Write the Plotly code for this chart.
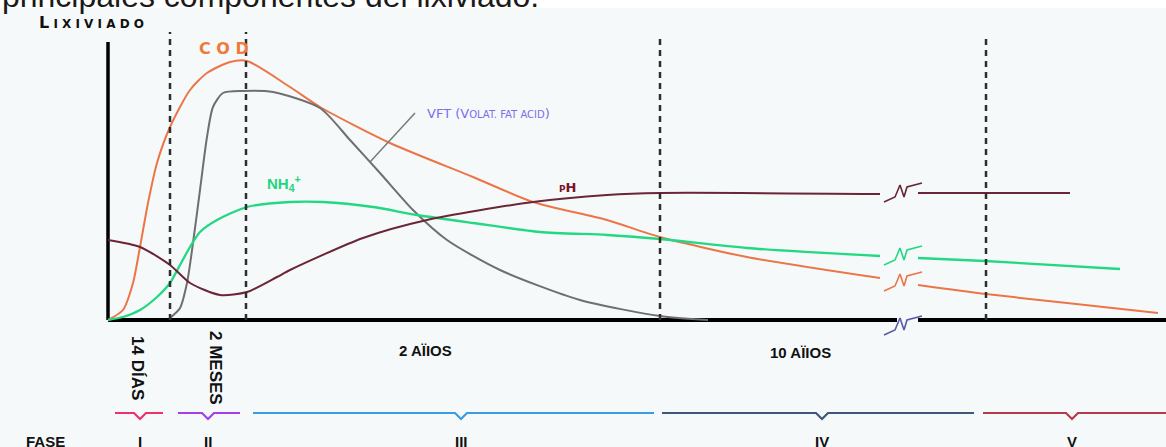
import plotly.graph_objects as go

# ---------------- data (schematic units: t = time axis, c = leachate concentration) -------------
cod_t = [0, 15, 25, 32, 40, 49, 62, 82, 99, 122, 139, 182, 212, 282, 365, 425, 499, 552, 639, 772]
cod_c = [0, 10, 37, 73, 117, 157, 193, 230, 247, 258, 259, 233, 213, 177, 143, 118, 100, 83, 63, 42]
cod_t2 = [810, 878, 959, 1050]
cod_c2 = [35, 26, 17, 7]

vft_t = [62, 72, 79, 85, 92, 99, 105, 115, 135, 165, 212, 242, 272, 305, 339, 392, 472, 552, 600]
vft_c = [2, 12, 37, 77, 130, 183, 213, 227, 229, 228, 212, 180, 147, 110, 80, 50, 20, 4, 0]

nh4_t = [0, 15, 32, 49, 62, 72, 82, 92, 109, 139, 182, 215, 265, 309, 365, 432, 499, 552, 639, 772]
nh4_c = [0, 3, 10, 23, 37, 55, 73, 88, 100, 113, 118, 118, 113, 105, 97, 88, 85, 81, 72, 64]
nh4_t2 = [810, 877, 1012]
nh4_c2 = [62, 59, 51]

ph_t = [0, 32, 62, 82, 112, 139, 169, 182, 255, 319, 425, 499, 552, 772]
ph_c = [80, 73, 55, 37, 25, 28, 43, 50, 82, 100, 118, 125, 127, 126]
ph_t2 = [810, 962]
ph_c2 = [127, 127]

phase_bounds = [62, 138, 552, 878]
phase_names = ["I", "II", "III", "IV", "V"]
phase_start = [7, 70, 145, 554, 875]
phase_end = [55, 132, 546, 866, 1058]
phase_mid = [32, 100, 353, 714, 964]
time_labels = ["14 DÍAS", "2 MESES", "2 AÏIOS", "10 AÏIOS"]

# ---------------- styling ----------------
C_COD = "#EC7548"
C_VFT = "#6F6F6F"
C_NH4 = "#22D882"
C_PH = "#6A2636"
phase_colors = ["#F0306A", "#A23EEA", "#3A9BE2", "#3D5878", "#B23C4C"]
X_MIN, X_MAX = -108, 1058
Y_MIN, Y_MAX = -127, 320
BREAK_T = 795
BOLD = "Liberation Sans, Arial, sans-serif"

fig = go.Figure()


def line(x, y, color, width=2, dash=None, shape="spline"):
    fig.add_trace(go.Scatter(x=x, y=y, mode="lines", cliponaxis=False, hoverinfo="skip",
                             line=dict(color=color, width=width, dash=dash, shape=shape,
                                       smoothing=0.7 if shape == "spline" else None),
                             showlegend=False))


# light background of the figure picture (page is white above it)
fig.add_shape(type="rect", x0=X_MIN, x1=X_MAX, y0=Y_MIN, y1=312, xref="x", yref="y",
              line=dict(width=0), fillcolor="#F6F9FA", layer="below")

# axes
line([0, 0], [0, 278], "#000000", 3.5, shape="linear")
line([0, BREAK_T - 6], [0, 0], "#000000", 4, shape="linear")
line([BREAK_T + 15, X_MAX], [0, 0], "#000000", 4, shape="linear")

# curves
line(cod_t, cod_c, C_COD)
line(cod_t2, cod_c2, C_COD)
line(vft_t, vft_c, C_VFT)
line(nh4_t, nh4_c, C_NH4, 2.3)
line(nh4_t2, nh4_c2, C_NH4, 2.3)
line(ph_t, ph_c, C_PH)
line(ph_t2, ph_c2, C_PH)

# axis-break marks
zx = [-19, -8, -3, 1, 4, 19]
zy = [-9, -4, 8, -4, 6, 10]
for cy, col in [(127, C_PH), (64, C_NH4), (38, C_COD), (-6, "#5A5AA8")]:
    line([BREAK_T + d for d in zx], [cy + d for d in zy], col, 1.6, shape="linear")

# VFT call-out
line([262, 307], [158, 207], "#7A7A7A", 1.5, shape="linear")

# phase dashed boundaries
for i, b in enumerate(phase_bounds):
    top = 288 if i < 2 else 282
    fig.add_shape(type="line", x0=b, x1=b, y0=0, y1=top, xref="x", yref="y",
                  line=dict(color="#2E2E2E", width=2.5, dash="6px,5px"))

# phase brackets
for s, e, m, col in zip(phase_start, phase_end, phase_mid, phase_colors):
    line([s, m - 6, m, m + 6, e], [-93, -93, -99, -93, -93], col, 2.2, shape="linear")


def ann(text, x, y, size, color="#111111", angle=0, xanchor="center", family=BOLD):
    fig.add_annotation(x=x, y=y, xref="x", yref="y", text=text, showarrow=False,
                       textangle=angle, xanchor=xanchor, yanchor="middle",
                       font=dict(size=size, color=color, family=family))


# heading of the page (only its lower part is visible in the reference)
fig.add_annotation(x=0, y=1.0, xref="paper", yref="paper", text="principales componentes del lixiviado.",
                   showarrow=False, xanchor="left", yanchor="middle", yshift=4,
                   font=dict(size=32, color="#1a1a1a", family="Liberation Sans, Arial, sans-serif"))

ann("<b>L<span style='font-size:12px'> I X I V I A D O</span></b>", -71, 298, 16,
    xanchor="left", family="DejaVu Sans, sans-serif")
ann("<b>C O D</b>", 116, 272, 16, "#F07A3A", family="DejaVu Sans, sans-serif")
ann("VFT (V<span style='font-size:10px'>OLAT. FAT ACID</span>)", 317, 207, 13, "#7A6EEA",
    xanchor="left", family="DejaVu Sans, sans-serif")
ann("<b>NH<sub>4</sub><sup>+</sup></b>", 157, 137, 15, "#22D47E", xanchor="left")
ann("<b><span style='font-size:9px'>P</span>H</b>", 460, 133, 13, "#7A1525",
    family="DejaVu Sans, sans-serif")

ann("<b>" + time_labels[0] + "</b>", 30, -48, 17, angle=90,
    family="Liberation Sans Narrow, Liberation Sans, Arial")
ann("<b>" + time_labels[1] + "</b>", 108, -48, 17, angle=90,
    family="Liberation Sans Narrow, Liberation Sans, Arial")
ann("<b>" + time_labels[2] + "</b>", 317, -30, 15)
ann("<b>" + time_labels[3] + "</b>", 692, -32, 15)

ann("<b>FASE</b>", -63, -121, 15)
for name, m in zip(phase_names, phase_mid):
    ann("<b>" + name + "</b>", m, -121, 15)

fig.update_layout(
    width=1166, height=447, margin=dict(l=0, r=0, t=0, b=0),
    paper_bgcolor="#FFFFFF", plot_bgcolor="#FFFFFF",
    xaxis=dict(range=[X_MIN, X_MAX], visible=False, fixedrange=True),
    yaxis=dict(range=[Y_MIN, Y_MAX], visible=False, fixedrange=True),
    showlegend=False,
)

fig.write_html("out.html", config={"displayModeBar": False},
               post_script="document.body.style.margin='0';document.body.style.overflow='hidden';")
